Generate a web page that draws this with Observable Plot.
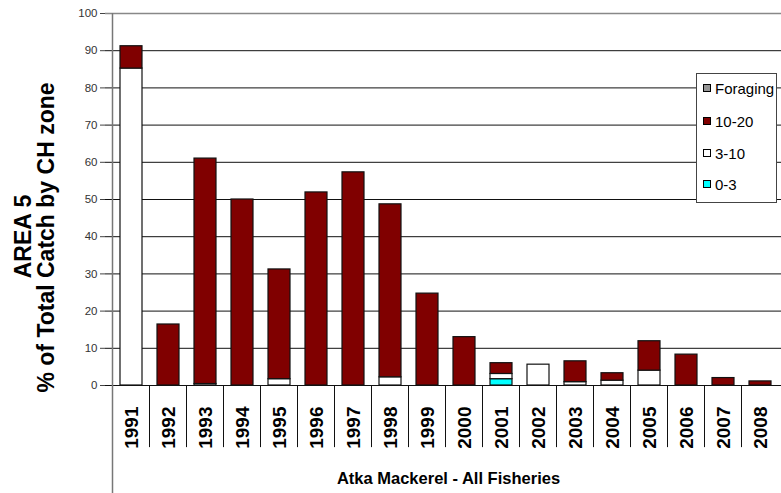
<!DOCTYPE html>
<html><head><meta charset="utf-8">
<script src="https://cdn.jsdelivr.net/npm/d3@7"></script>
<script src="https://cdn.jsdelivr.net/npm/@observablehq/plot@0.6"></script>
<style>
body{margin:0;background:#fff;}
#wrap{position:relative;width:781px;height:493px;overflow:hidden;font-family:"Liberation Sans",Arial,sans-serif;}
#legend{position:absolute;left:696px;top:73px;width:81px;height:130px;border:1px solid #444;background:#fff;box-sizing:border-box;}
.item{position:absolute;left:6px;height:18px;display:flex;align-items:center;font-size:15px;color:#000;white-space:nowrap;}
.sw{width:8px;height:8px;border:1px solid #000;margin-right:4px;box-sizing:border-box;}
</style></head><body><div id="wrap"></div>
<script>
const years = ["1991","1992","1993","1994","1995","1996","1997","1998","1999","2000","2001","2002","2003","2004","2005","2006","2007","2008"];
const zones = ["0-3","3-10","10-20","Foraging"];
const zoneColors = ["#00FFFF","#FFFFFF","#800000","#969696"];
const zone0_3    = [0,0,0,0,0,0,0,0,0,0,1.7,0,0,0,0,0,0,0];
const zone3_10   = [85.2,0,0.4,0,1.7,0,0,2.2,0,0,1.4,5.6,0.9,1.3,4.0,0,0,0];
const zone10_20  = [6.0,16.4,60.6,50.0,29.5,51.9,57.3,46.5,24.7,13.0,2.9,0,5.6,2.0,7.9,8.3,2.0,1.1];
const foraging   = [0,0,0,0,0,0,0,0,0,0,0,0,0,0,0,0,0,0];
const yTicks = [0,10,20,30,40,50,60,70,80,90,100];
const legendOrder = ["Foraging","10-20","3-10","0-3"];
const yTitle1 = "AREA 5";
const yTitle2 = "% of Total Catch by CH zone";
const xTitle = "Atka Mackerel - All Fisheries";

const series = {"0-3": zone0_3, "3-10": zone3_10, "10-20": zone10_20, "Foraging": foraging};
const rows = [];
years.forEach((yr, i) => zones.forEach(z => { if (series[z][i] > 0) rows.push({year: yr, zone: z, value: series[z][i]}); }));

const font = '"Liberation Sans", Arial, sans-serif';
const chart = Plot.plot({
  width: 781, height: 493,
  marginTop: 13, marginBottom: 108, marginLeft: 97, marginRight: -14,
  x: {domain: years, padding: 0.4, axis: null},
  y: {domain: [0, 100], axis: null},
  color: {domain: zones, range: zoneColors},
  style: {fontFamily: font, background: "white", color: "#000"},
  marks: [
    Plot.ruleY(yTicks.filter(t => t > 0 && t < 100), {stroke: "#111", strokeWidth: 1, insetLeft: 8}),
    Plot.ruleY([100], {stroke: "#888", strokeWidth: 1.5, insetLeft: 8}),
    Plot.barY(rows, Plot.stackY({x: "year", y: "value", fill: "zone", order: zones, stroke: "#111", strokeWidth: 1.2})),
    Plot.ruleY([0], {stroke: "#111", strokeWidth: 1, insetLeft: 8}),
    Plot.ruleX(years, {x: d => d, y1: 0, y2: -16.7, dx: -19, stroke: "#111", strokeWidth: 1}),
    Plot.ruleX([years[0]], {x: d => d, y1: 100, y2: -29, dx: -19, stroke: "#777", strokeWidth: 1.5}),
    Plot.axisY({ticks: yTicks, label: null, tickSize: 5, tickPadding: 3, dx: 8, fontSize: 11.5, stroke: "#444", fill: "#333"}),
    Plot.text(years, {x: d => d, y: 0, text: d => d, rotate: -90, textAnchor: "end", dy: 21, fontSize: 19, fontWeight: "bold", fill: "#000"}),
    Plot.text([yTitle1], {frameAnchor: "left", text: d => d, textAnchor: "middle", dx: -74, dy: 37, rotate: -90, fontSize: 23, fontWeight: "bold", fill: "#000", letterSpacing: "2.5px"}),
    Plot.text([yTitle2], {frameAnchor: "left", text: d => d, textAnchor: "middle", dx: -51, dy: 38, rotate: -90, fontSize: 23, fontWeight: "bold", fill: "#000", letterSpacing: "0.3px"}),
    Plot.text([xTitle], {frameAnchor: "bottom", text: d => d, dx: 2, dy: 98, fontSize: 16.5, fontWeight: "bold", fill: "#000"})
  ]
});
const wrap = document.getElementById("wrap");
wrap.appendChild(chart);

const legend = document.createElement("div");
legend.id = "legend";
const centers = [14, 47, 79, 110];
legendOrder.forEach((z, i) => {
  const it = document.createElement("div");
  it.className = "item";
  it.style.top = (centers[i] - 9) + "px";
  const sw = document.createElement("div");
  sw.className = "sw";
  sw.style.background = zoneColors[zones.indexOf(z)];
  const t = document.createElement("span");
  t.textContent = z;
  it.appendChild(sw); it.appendChild(t);
  legend.appendChild(it);
});
wrap.appendChild(legend);
</script></body></html>
